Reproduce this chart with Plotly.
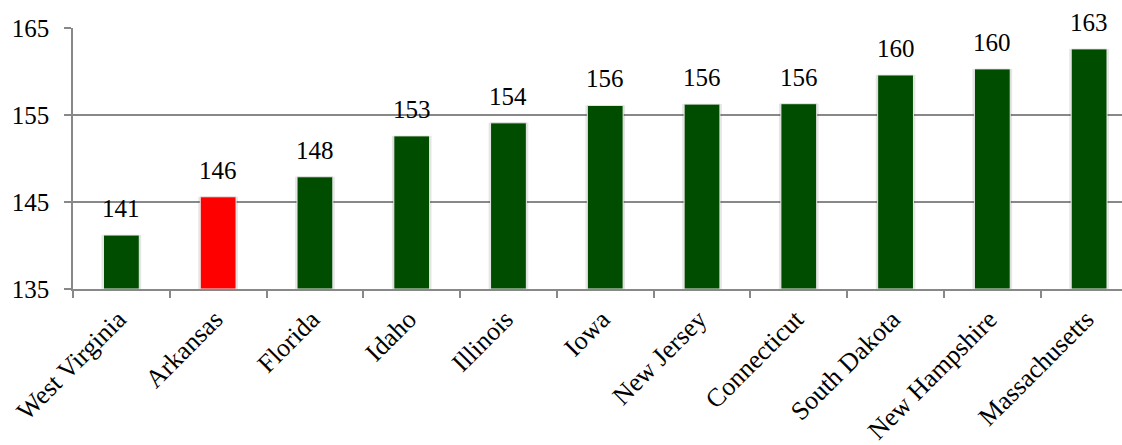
import plotly.graph_objects as go

states = ["West Virginia", "Arkansas", "Florida", "Idaho", "Illinois", "Iowa",
          "New Jersey", "Connecticut", "South Dakota", "New Hampshire", "Massachusetts"]
values = [141.2, 145.6, 147.9, 152.6, 154.1, 156.1, 156.25, 156.3, 159.6, 160.3, 162.6]
highlight = "Arkansas"
y_ticks = [135, 145, 155, 165]

GREEN = "#004d00"
RED = "#ff0000"
colors = [RED if s == highlight else GREEN for s in states]
FONT = "Liberation Serif"

fig = go.Figure()
# soft shadow behind bars
fig.add_trace(go.Bar(
    x=states, y=[v - 135 for v in values], base=135,
    width=0.41, marker=dict(color="rgba(0,0,0,0.10)", line=dict(width=0)),
    hoverinfo="skip", showlegend=False,
))
fig.add_trace(go.Bar(
    x=states, y=[v - 135 for v in values], base=135,
    width=0.37, marker=dict(color=colors, line=dict(color="rgba(235,235,235,1)", width=1)),
    showlegend=False,
))

for s, v in zip(states, values):
    fig.add_annotation(x=s, y=v, text=f"{v:.0f}", showarrow=False,
                       yanchor="bottom", yshift=11,
                       font=dict(family=FONT, size=25, color="#000"))

fig.update_layout(
    width=1122, height=445,
    margin=dict(l=73, r=0, t=28, b=156, autoexpand=False),
    paper_bgcolor="white", plot_bgcolor="white",
    barmode="overlay",
    font=dict(family=FONT, size=25, color="#000"),
)
fig.update_xaxes(
    range=[-0.5, 10.34], tickangle=-45, tickson="boundaries",
    ticks="outside", ticklen=7, tickcolor="#888", tickwidth=1.5,
    showline=True, linecolor="#888", linewidth=1.5, automargin=False,
    showgrid=False, tickfont=dict(family=FONT, size=26),
    ticklabelstandoff=3, ticklabelshift=-3,
)
fig.update_yaxes(
    range=[135, 165], tickvals=y_ticks, automargin=False,
    ticks="outside", ticklen=7, tickcolor="#888", tickwidth=1.5,
    showline=True, linecolor="#888", linewidth=1.5,
    showgrid=True, gridcolor="#888", gridwidth=1.5, zeroline=False,
    tickfont=dict(family=FONT, size=25), ticklabelstandoff=10,
)

fig.write_html("out.html", config={"displayModeBar": False},
               post_script="document.body.style.margin='0';document.body.style.overflow='hidden';")
